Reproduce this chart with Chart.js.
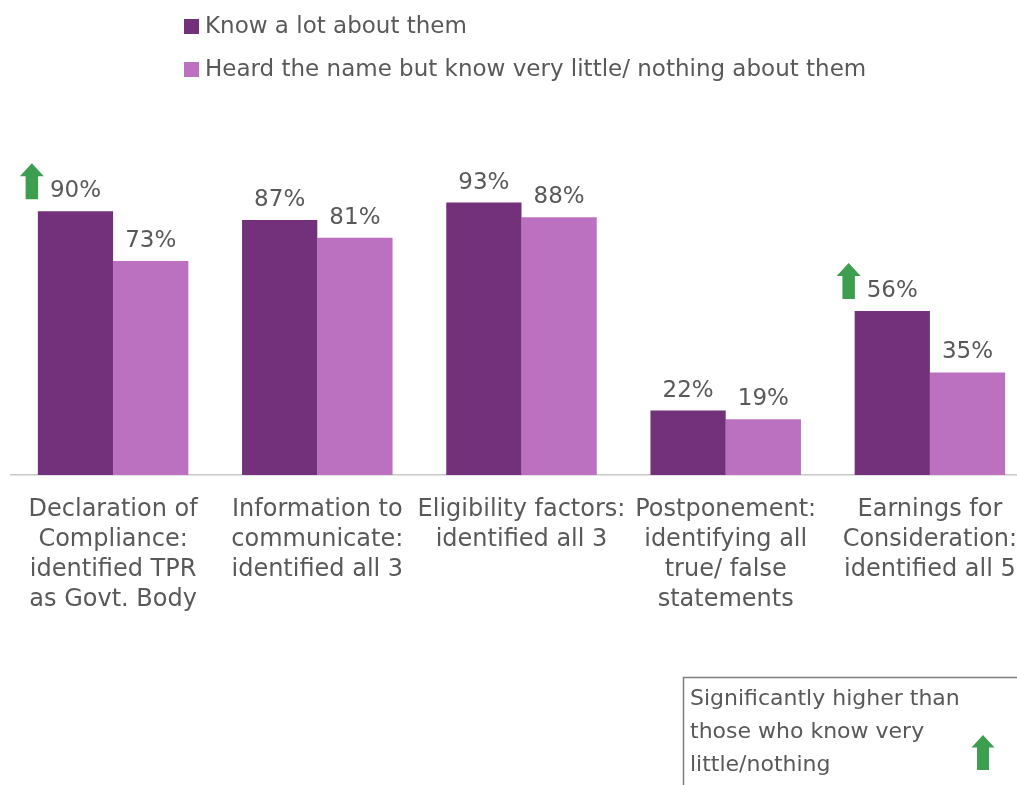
<!DOCTYPE html>
<html>
<head>
<meta charset="utf-8">
<script src="https://cdn.jsdelivr.net/npm/chart.js@4.4.1/dist/chart.umd.min.js"></script>
<style>
  html, body { margin: 0; padding: 0; background: #fff; overflow: hidden; }
  #wrap { position: absolute; left: 0; top: 0; width: 1040px; height: 785px; }
</style>
</head>
<body>
<div id="wrap"><canvas id="chart"></canvas></div>
<script>
const categories = [
  ['Declaration of', 'Compliance:', 'identified TPR', 'as Govt. Body'],
  ['Information to', 'communicate:', 'identified all 3'],
  ['Eligibility factors:', 'identified all 3'],
  ['Postponement:', 'identifying all', 'true/ false', 'statements'],
  ['Earnings for', 'Consideration:', 'identified all 5']
];
const seriesNames = ['Know a lot about them', 'Heard the name but know very little/ nothing about them'];
const knowALot = [90, 87, 93, 22, 56];
const heardName = [73, 81, 88, 19, 35];
const significant = [true, false, false, false, true];
const noteLines = ['Significantly higher than', 'those who know very', 'little/nothing'];

const DARK = '#72317a';
const LIGHT = '#bb71c0';
const TEXT = '#595959';
const FONT = '"DejaVu Sans", sans-serif';

function drawArrow(ctx, cx, bottom, w, h) {
  const head = h * 0.36;
  const shaft = w * 0.52;
  ctx.fillStyle = '#3d9e4f';
  ctx.beginPath();
  ctx.moveTo(cx, bottom - h);
  ctx.lineTo(cx + w / 2, bottom - h + head);
  ctx.lineTo(cx + shaft / 2, bottom - h + head);
  ctx.lineTo(cx + shaft / 2, bottom);
  ctx.lineTo(cx - shaft / 2, bottom);
  ctx.lineTo(cx - shaft / 2, bottom - h + head);
  ctx.lineTo(cx - w / 2, bottom - h + head);
  ctx.closePath();
  ctx.fill();
}

const overlay = {
  id: 'overlay',
  afterDatasetsDraw(chart) {
    const ctx = chart.ctx;
    ctx.save();
    // value labels
    ctx.font = '23px ' + FONT;
    ctx.fillStyle = TEXT;
    ctx.textAlign = 'center';
    ctx.textBaseline = 'alphabetic';
    chart.data.datasets.forEach((ds, di) => {
      chart.getDatasetMeta(di).data.forEach((bar, i) => {
        ctx.fillText(ds.data[i] + '%', bar.x, bar.y - 14);
      });
    });
    // significance arrows
    const bars = chart.getDatasetMeta(0).data;
    significant.forEach((s, i) => {
      if (!s) return;
      const b = bars[i];
      drawArrow(ctx, b.x - b.width / 2 - 6, b.y - 12, 24, 36);
    });

    // legend
    const colors = [DARK, LIGHT];
    ctx.textAlign = 'left';
    ctx.textBaseline = 'middle';
    ctx.font = '23px ' + FONT;
    seriesNames.forEach((name, i) => {
      const y = 27 + i * 43;
      ctx.fillStyle = colors[i];
      ctx.fillRect(184, y - 8, 15, 15);
      ctx.fillStyle = TEXT;
      ctx.fillText(name, 205, y);
    });

    // note box
    ctx.strokeStyle = '#7f7f7f';
    ctx.lineWidth = 1.5;
    ctx.strokeRect(683.5, 677.5, 400, 200);
    ctx.font = '22px ' + FONT;
    ctx.fillStyle = TEXT;
    noteLines.forEach((line, i) => {
      ctx.fillText(line, 690, 699 + i * 33);
    });
    drawArrow(ctx, 983, 770, 23, 35);
    ctx.restore();
  }
};

new Chart(document.getElementById('chart'), {
  type: 'bar',
  data: {
    labels: categories,
    datasets: [
      { label: seriesNames[0], data: knowALot, backgroundColor: DARK },
      { label: seriesNames[1], data: heardName, backgroundColor: LIGHT }
    ]
  },
  options: {
    responsive: true,
    maintainAspectRatio: false,
    animation: false,
    layout: { padding: { top: 182, left: 11, right: 8, bottom: 150 } },
    datasets: { bar: { categoryPercentage: 0.737, barPercentage: 1.0 } },
    scales: {
      x: {
        grid: { display: false, drawTicks: false },
        border: { display: true, color: '#c8c8c8', width: 1.5 },
        ticks: {
          color: TEXT,
          font: { family: FONT, size: 24, lineHeight: 1.25 },
          padding: 20,
          maxRotation: 0,
          minRotation: 0,
          autoSkip: false
        }
      },
      y: { display: false, min: 0, max: 100 }
    },
    plugins: {
      legend: { display: false },
      tooltip: { enabled: false }
    }
  },
  plugins: [overlay]
});
</script>
</body>
</html>
